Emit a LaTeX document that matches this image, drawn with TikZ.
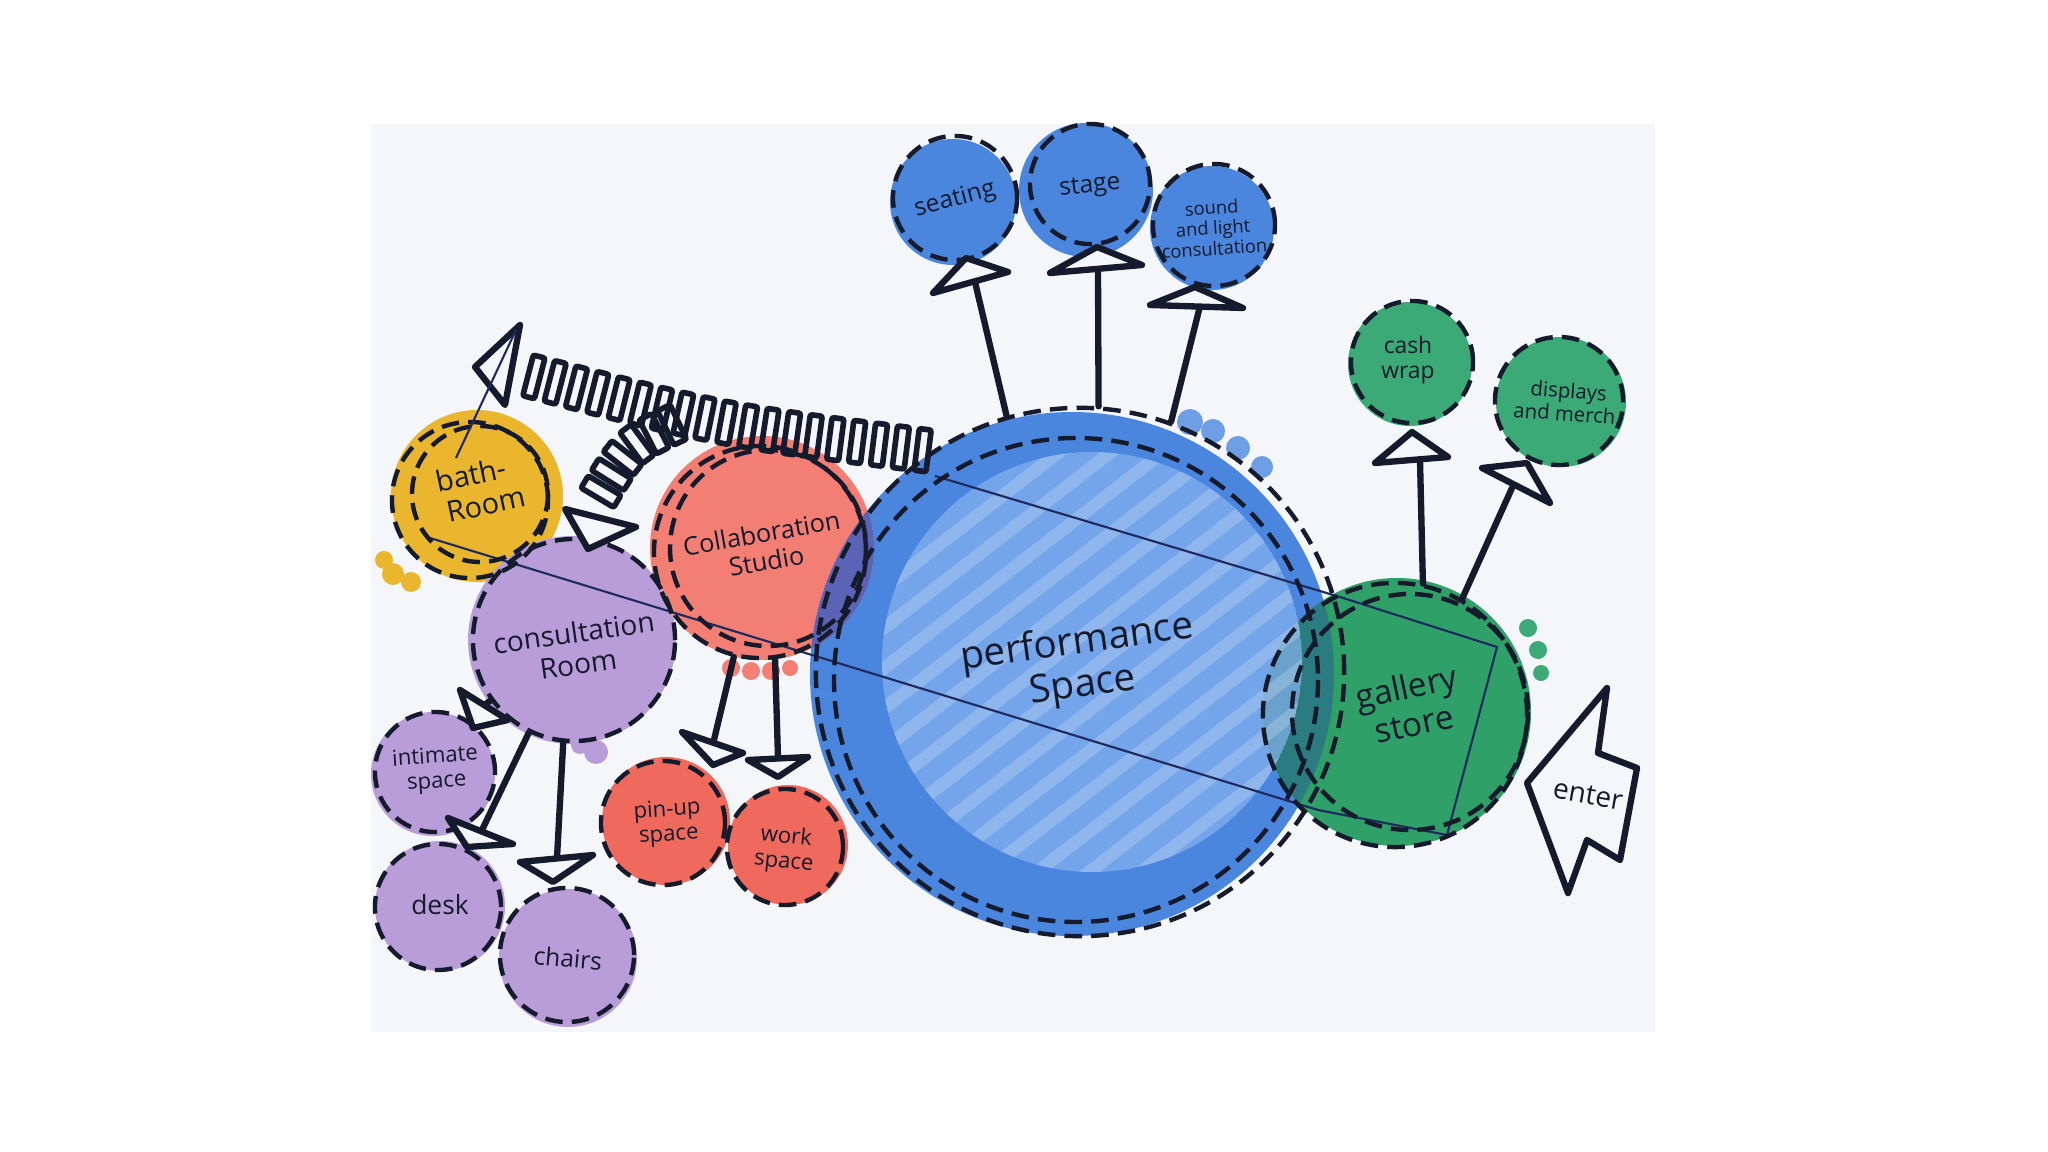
\documentclass[tikz,border=0pt]{standalone}
\usepackage{fontspec}
\setmainfont{Open Sans}
\usetikzlibrary{decorations.markings}
\definecolor{ink}{HTML}{151A2C}
\definecolor{navyline}{HTML}{1E2A5E}
\definecolor{paper}{HTML}{F4F6FA}
\definecolor{blueb}{HTML}{4A86DE}
\definecolor{bluelight}{HTML}{86B2EF}
\definecolor{yellowb}{HTML}{E9B62E}
\definecolor{redb}{HTML}{EF6A5C}
\definecolor{redl}{HTML}{F27E74}
\definecolor{purpleb}{HTML}{B99DD8}
\definecolor{greenb}{HTML}{2FA068}
\definecolor{greenl}{HTML}{3BAA76}
\definecolor{tealov}{HTML}{2B7C80}
\definecolor{collov}{HTML}{5A63B5}
\begin{document}
\begin{tikzpicture}[x=0.01cm,y=-0.01cm,
  bub/.style={circle, inner sep=0pt, draw=ink, line width=1.25pt, dash pattern=on 5pt off 2.6pt},
  dring/.style={draw=ink, line width=1.25pt, dash pattern=on 5pt off 2.6pt},
  conn/.style={draw=ink, line width=1.8pt, line join=round, line cap=round},
  head/.style={draw=ink, fill=paper, line width=1.8pt, line join=round},
  fineline/.style={draw=navyline, line width=0.6pt},
  tooth/.style={draw=ink, line width=1.6pt, rounded corners=0.6pt},
  lbl/.style={text=ink, align=center, inner sep=0pt},
  fs/.style={font=\fontsize{#1}{\fpeval{#1*1.12}}\selectfont}
]
\useasboundingbox (0,0) rectangle (2048,1152);
\fill[white] (0,0) rectangle (2048,1152);
\fill[paper] (371,124) rectangle (1655,1032);

% ---------- fills ----------
\fill[blueb] (1072,674) circle[radius=262];
\fill[greenb] (1397,712) circle[radius=134];
\begin{scope}
  \clip (1072,674) circle[radius=262];
  \fill[tealov] (1397,712) circle[radius=134];
\end{scope}
\fill[redl] (762,548) circle[radius=112];
\begin{scope}
  \clip (1072,674) circle[radius=262];
  \fill[collov] (762,548) circle[radius=112];
\end{scope}
\fill[yellowb] (477,496) circle[radius=86];
\fill[purpleb] (572,640) circle[radius=104];
% small bubbles
\fill[blueb] (953,202) circle[radius=63];
\fill[blueb] (1086,190) circle[radius=67];
\fill[blueb] (1212,228) circle[radius=62];
\fill[greenl] (1410,364) circle[radius=62];
\fill[greenl] (1561,402) circle[radius=65];
\fill[purpleb] (433,774) circle[radius=62];
\fill[purpleb] (440,906) circle[radius=65];
\fill[purpleb] (568,958) circle[radius=69];
\fill[redb] (666,821) circle[radius=64];
\fill[redb] (788,845) circle[radius=60];
% marker dots
\foreach \p/\r in {(1190,422)/13,(1213,431)/12,(1238,448)/12,(1262,467)/11}{\fill[blueb!80!white] \p circle[radius=\r];}
\foreach \p/\r in {(731,668)/9,(751,671)/9,(771,671)/9,(790,668)/8}{\fill[redl] \p circle[radius=\r];}
\foreach \p/\r in {(596,752)/12,(580,745)/9}{\fill[purpleb] \p circle[radius=\r];}
\foreach \p/\r in {(393,574)/11,(411,582)/10,(384,560)/9}{\fill[yellowb] \p circle[radius=\r];}
\foreach \p/\r in {(1528,628)/9,(1538,650)/9,(1541,673)/8}{\fill[greenl] \p circle[radius=\r];}

% performance hatch
\begin{scope}
  \clip (1092,662) circle[radius=210];
  \fill[bluelight, opacity=0.7] (1092,662) circle[radius=210];
  \foreach \i in {0,...,26}{
    \draw[white, opacity=0.2, line width=3.6pt] (300+\i*52,1000) -- ++(800,-620);
  }
\end{scope}

% ---------- thin adjacency lines ----------
\coordinate (la) at (430,538);
\coordinate (lb) at (1318,810);
\coordinate (ld) at (1447,835);
\coordinate (uc) at (1497,647);
\coordinate (ub) at (1340,597);
\coordinate (ua) at (935,476);
\draw[fineline] (la) -- (lb) -- (ld) -- (uc) -- (ub) -- (ua);

% ---------- bubbles ----------
\node[bub, minimum size=5.28cm] (perf) at (1080,672) {};
\draw[dring] (1076,680) circle[radius=242];
\node[bub, minimum size=2.64cm] (gal) at (1395,715) {};
\draw[dring] (1410,712) circle[radius=118];
\node[bub, minimum size=2.12cm] (collab) at (760,552) {};
\draw[dring] (768,548) circle[radius=98];
\node[bub, minimum size=2.02cm] (cons) at (574,640) {};
\node[bub, minimum size=1.56cm] (bath) at (470,500) {};
\draw[dring] (480,494) circle[radius=68];
\node[bub, minimum size=1.24cm] (seat) at (955,198) {};
\node[bub, minimum size=1.20cm] (stage) at (1090,184) {};
\node[bub, minimum size=1.22cm] (sound) at (1214,225) {};
\node[bub, minimum size=1.22cm] (cash) at (1412,362) {};
\node[bub, minimum size=1.28cm] (disp) at (1559,401) {};
\node[bub, minimum size=1.20cm] (intim) at (435,772) {};
\node[bub, minimum size=1.26cm] (desk) at (438,907) {};
\node[bub, minimum size=1.34cm] (chairs) at (567,955) {};
\node[bub, minimum size=1.24cm] (pinup) at (663,823) {};
\node[bub, minimum size=1.16cm] (work) at (785,847) {};

% ---------- labels ----------
\node[lbl, fs=11, rotate=8] (perf-t) at (1080,665) {performance\\Space};
\node[lbl, fs=9.5, rotate=12] (gal-t) at (1410,705) {gallery\\store};
\node[lbl, fs=7.2, rotate=10] (collab-t) at (764,547) {Collaboration\\Studio};
\node[lbl, fs=8, rotate=8] (cons-t) at (576,648) {consultation\\Room};
\node[lbl, fs=8.2, rotate=12] (bath-t) at (474,490) {bath-\\\hspace*{0.6em}Room};
\node[lbl, fs=7, rotate=15] (seat-t) at (955,200) {seating};
\node[lbl, fs=7, rotate=6] (stage-t) at (1090,187) {stage};
\node[lbl, fs=5.2, rotate=4] (sound-t) at (1213,228) {sound\\and light\\consultation};
\node[lbl, fs=6.5] (cash-t) at (1408,360) {cash\\wrap};
\node[lbl, fs=5.8, rotate=-4] (disp-t) at (1568,402) {displays\\and merch.};
\node[lbl, fs=6.3, rotate=4] (intim-t) at (436,770) {intimate\\space};
\node[lbl, fs=7.5] (desk-t) at (440,905) {desk};
\node[lbl, fs=7, rotate=-5] (chairs-t) at (568,958) {chairs};
\node[lbl, fs=6.3, rotate=4] (pinup-t) at (668,823) {pin-up\\space};
\node[lbl, fs=6.3, rotate=-6] (work-t) at (785,850) {work\\space};

% ---------- arrows ----------
\draw[conn] (perf.106) -- (975,282);
\draw[head] (933,293) -- (1008,272) -- (966,258) -- cycle;
\draw[conn] (perf.86) -- (1098,271);
\draw[head] (1050,273) -- (1142,265) -- (1097,247) -- cycle;
\draw[conn] (perf.70) -- (1200,306);
\draw[head] (1150,305) -- (1243,308) -- (1195,287) -- cycle;
\draw[conn] (gal.78) -- (1420,460);
\draw[head] (1375,463) -- (1448,457) -- (1412,432) -- cycle;
\draw[conn] (gal.60) -- (1512,488);
\draw[head] (1482,468) -- (1550,503) -- (1527,463) -- cycle;
\draw[conn] (collab.256) -- (713,744);
\draw[head] (682,732) -- (743,753) -- (713,765) -- cycle;
\draw[conn] (collab.278) -- (778,758);
\draw[head] (748,760) -- (808,757) -- (778,777) -- cycle;
\draw[conn] (cons.264) -- (557,858);
\draw[head] (520,862) -- (593,855) -- (553,882) -- cycle;
\draw[conn] (cons.244) -- (482,830);
\draw[head] (448,818) -- (513,844) -- (467,847) -- cycle;
\draw[conn] (cons.216) -- (484,705);
\draw[head] (460,690) -- (508,720) -- (473,728) -- cycle;

% ---------- spring connector ----------
\path[decorate, decoration={markings, mark=between positions 0.02 and 0.99 step 0.22cm with {\draw[tooth] (-6,-21) rectangle (6,21);}}]
  (perf.124) .. controls (720,425) .. (515,372);
\draw[head] (475,367) -- (520,325) -- (505,405) -- cycle;
\draw[fineline] (516,330) -- (456,458);
\path[decorate, decoration={markings, mark=between positions 0.02 and 1 step 0.2cm with {\draw[tooth] (-7,-19) rectangle (7,19);}}]
  (674,424) .. controls (628,446) .. (596,500);
\draw[head] (565,509) -- (636,527) -- (588,549) -- cycle;

% ---------- enter ----------
\coordinate (en) at (1527,783);
\draw[head] (en) -- (1607,688) -- (1598,753) -- (1637,768) -- (1620,860) -- (1587,840) -- (1568,893) -- cycle;
\node[lbl, fs=8, rotate=-10] (enter-t) at (1588,795) {enter};
\end{tikzpicture}
\end{document}
